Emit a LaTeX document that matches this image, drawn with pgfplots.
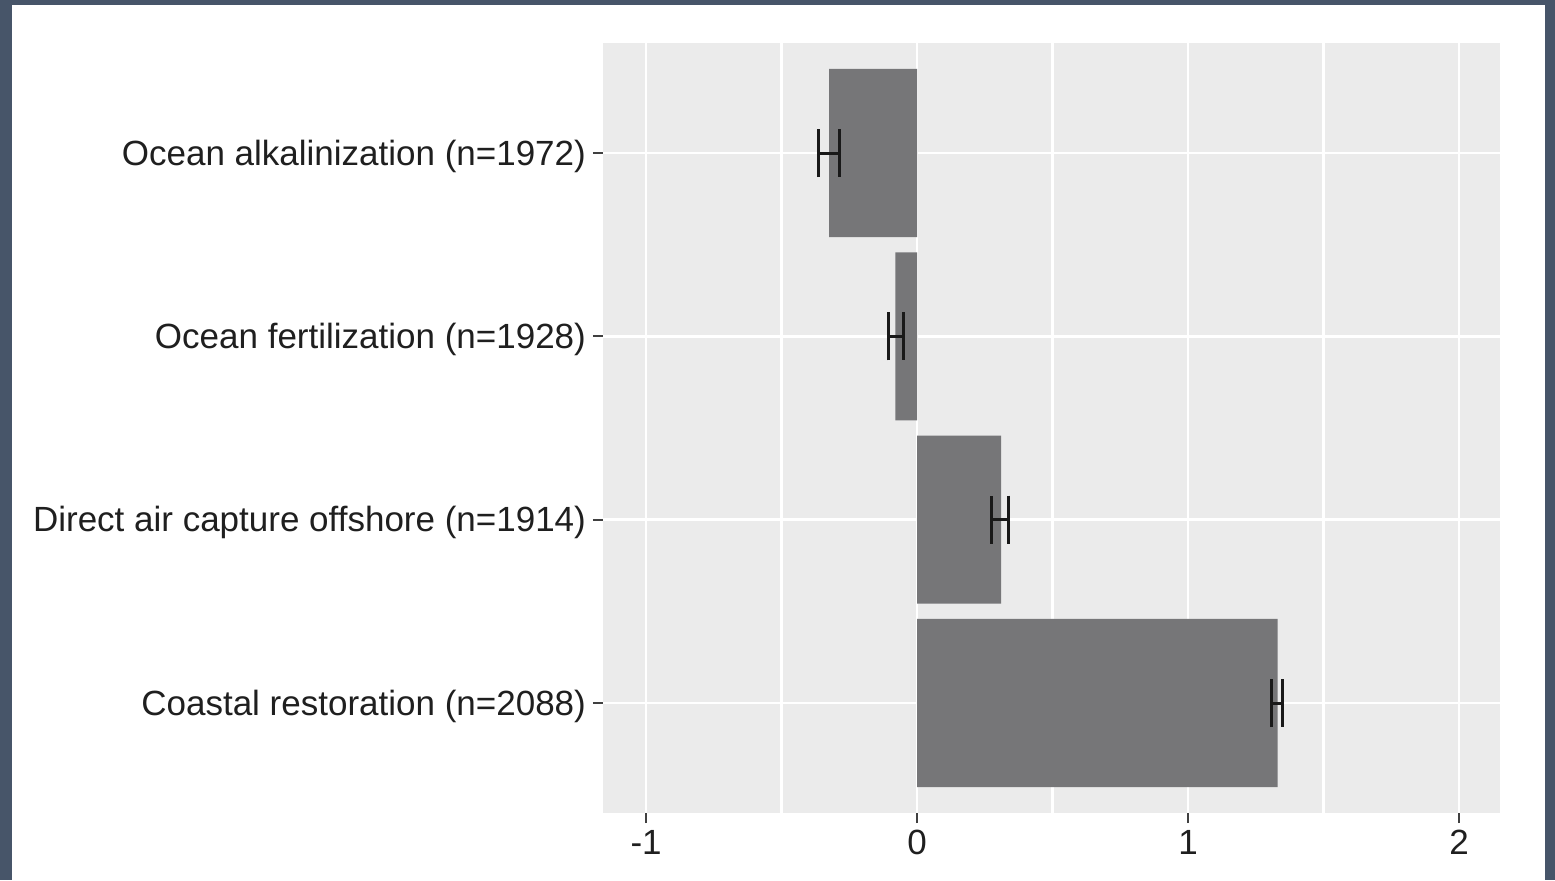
\documentclass[border=0pt]{standalone}
\usepackage{fontspec}
\setmainfont{Liberation Sans}
\usepackage{pgfplots}
\pgfplotsset{compat=1.18}
\definecolor{frame}{HTML}{475569}
\definecolor{panel}{HTML}{EBEBEB}
\definecolor{barfill}{HTML}{767678}
\begin{document}
\begin{tikzpicture}[x=0.5pt,y=0.5pt]
\fill[frame] (0,0) rectangle (1555,880);
\fill[white] (12,0) rectangle (1545,875);
\path[use as bounding box] (0,0) rectangle (1555,880);
\begin{axis}[
  at={(301.5pt,33.5pt)}, anchor=south west,
  scale only axis, width=448.5pt, height=385pt,
  xmin=-1.159, xmax=2.151, ymin=0.4, ymax=4.6,
  axis background/.style={fill=panel},
  axis line style={draw=none},
  xtick={-1,0,1,2}, minor xtick={-0.5,0.5,1.5},
  ytick={1,2,3,4},
  yticklabels={Coastal restoration (n=2088), Direct air capture offshore (n=1914), Ocean fertilization (n=1928), Ocean alkalinization (n=1972)},
  xticklabels={-1,0,1,2},
  grid=both,
  major grid style={white, line width=1.4pt},
  minor grid style={white, line width=1.1pt},
  tick align=outside, major tick length=5pt, minor tick length=0pt,
  xtick pos=bottom, ytick pos=left,
  tick style={black!75, line width=0.9pt},
  tick label style={font=\fontsize{17.5}{21}\selectfont, text=black!88},
  yticklabel style={yshift=-1.5pt},
  /pgf/number format/assume math mode=true,
]
\addplot[xbar, bar width=0.917, fill=barfill, draw=none] coordinates {(1.33,1) (0.31,2) (-0.08,3) (-0.325,4)};
\addplot[draw=none, mark=none, forget plot, every mark/.append style={line width=1.5pt},
  error bars/.cd, x dir=both, x explicit,
  error bar style={black!90, line width=1.5pt},
  error mark options={black!90, line width=1.5pt, mark size=12pt, rotate=90}]
  coordinates {(1.328,1) +- (0.022,0) (0.306,2) +- (0.03,0) (-0.079,3) +- (0.028,0) (-0.325,4) +- (0.037,0)};
\end{axis}
\end{tikzpicture}
\end{document}
